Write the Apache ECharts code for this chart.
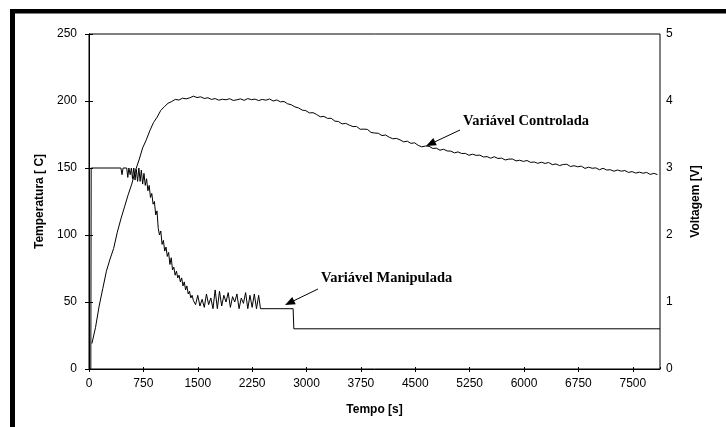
<!DOCTYPE html>
<html>
<head>
<meta charset="utf-8">
<script src="https://cdn.jsdelivr.net/npm/echarts@6/dist/echarts.min.js"></script>
<style>
html,body{margin:0;padding:0;background:#fff;}
#chart{width:726px;height:427px;}
</style>
</head>
<body>
<div id="chart"></div>
<script>
// ---- Data ----
var xTicks = [0, 750, 1500, 2250, 3000, 3750, 4500, 5250, 6000, 6750, 7500];
var leftTicks = [0, 50, 100, 150, 200, 250];
var rightTicks = [0, 1, 2, 3, 4, 5];

// Variável Controlada: temperature [C], sample times [s]
var tempTime = [40,90,140,190,240,290,340,390,440,490,540,590,640,690,740,790,840,890,940,990,
1040,1090,1140,1190,1240,1290,1340,1390,1440,1490,1540,1590,1640,1690,1740,1790,1840,1890,1940,1990,
2040,2090,2140,2190,2240,2290,2340,2390,2440,2490,2540,2590,2640,2690,2740,2790,2840,2890,2940,2990,
3040,3090,3140,3190,3240,3290,3340,3390,3440,3490,3540,3590,3640,3690,3740,3790,3840,3890,3940,3990,
4040,4090,4140,4190,4240,4290,4340,4390,4440,4490,4540,4590,4640,4690,4740,4790,4840,4890,4940,4990,
5040,5090,5140,5190,5240,5290,5340,5390,5440,5490,5540,5590,5640,5690,5740,5790,5840,5890,5940,5990,
6040,6090,6140,6190,6240,6290,6340,6390,6440,6490,6540,6590,6640,6690,6740,6790,6840,6890,6940,6990,
7040,7090,7140,7190,7240,7290,7340,7390,7440,7490,7540,7590,7640,7690,7740,7790,7840];
var tempValue = [19,31,47,60,73,82,90,102,112,121,130,138,148,156,165,171,178,184,188,193,
195.8,198.3,199.6,201.2,200.7,202.1,201.6,202.4,203.6,202.6,203.1,201.9,202.4,201.2,201.8,200.6,201.3,200.9,201.7,200.4,
200.9,201.6,200.5,201.8,201.0,201.4,200.3,201.2,200.6,201.5,200.0,200.8,199.4,199.6,197.9,197.2,195.6,194.8,193.2,192.8,
191.1,191.3,189.9,188.2,188.5,187.0,187.1,185.0,184.7,182.9,183.3,182.0,180.9,181.0,178.9,179.0,178.8,176.5,176.1,175.9,
174.2,174.6,173.0,171.8,172.1,171.0,169.5,170.0,168.4,168.8,166.9,165.8,166.4,166.2,164.6,164.8,163.3,164.0,162.7,162.6,
161.3,162.0,160.8,160.9,159.5,160.3,159.4,159.6,158.2,158.5,157.3,158.4,157.1,157.4,156.0,156.6,156.7,155.3,155.8,154.9,
155.6,154.2,154.5,153.5,154.3,153.4,154.1,152.5,153.0,151.8,152.6,152.8,151.1,151.7,150.9,151.4,149.7,150.6,149.8,150.1,
148.7,149.8,148.5,148.7,147.6,148.5,147.6,148.1,146.7,147.3,146.2,146.9,146.1,146.7,145.2,146.0,145.1];

// Variável Manipulada: voltage [V], times [s]
var mvTime = [25,30,440,455,470,520,535,550,568,585,600,618,635,652,670,688,705,722,740,758,
776,794,812,830,848,866,884,902,920,938,955,972,990,1008,1026,1044,1062,1080,1098,1116,
1134,1152,1170,1188,1206,1224,1242,1260,1278,1296,1314,1332,1350,1368,1386,1404,1422,1440,1470,1500,
1530,1560,1590,1620,1650,1680,1710,1740,1770,1800,1830,1860,1890,1920,1950,1980,2010,2040,2070,2100,
2130,2160,2190,2220,2250,2280,2310,2340,2365,2380,2815,2825,7875];
var mvVolt = [0,3.0,3.0,2.9,3.0,3.0,2.86,3.0,2.9,3.0,2.84,3.0,2.82,2.98,2.8,3.0,2.8,2.97,2.76,2.92,
2.74,2.84,2.66,2.74,2.56,2.62,2.46,2.5,2.3,2.36,2.1,2.0,2.06,1.86,1.92,1.76,1.82,1.68,1.74,1.56,
1.66,1.48,1.52,1.4,1.46,1.36,1.4,1.3,1.36,1.24,1.3,1.18,1.24,1.12,1.16,1.06,1.1,1.02,0.96,1.1,
0.94,1.04,0.92,1.12,0.96,1.06,0.9,1.18,0.9,1.16,0.94,1.1,1.0,1.14,0.92,1.08,1.0,1.12,0.9,1.06,
0.98,1.14,0.9,1.1,0.92,1.12,0.9,1.1,0.9,0.9,0.9,0.6,0.6];

var labelControlled = "Variável Controlada";
var labelManipulated = "Variável Manipulada";

// ---- Build ----
function pairs(xs, ys) {
  var out = [];
  for (var i = 0; i < xs.length; i++) out.push([xs[i], ys[i]]);
  return out;
}
function arrowHead(x1, y1, x2, y2, len, wid) {
  var dx = x2 - x1, dy = y2 - y1, d = Math.sqrt(dx * dx + dy * dy);
  var ux = dx / d, uy = dy / d, nx = -uy, ny = ux;
  var bx = x2 - ux * len, by = y2 - uy * len;
  return [
    { type: 'line', shape: { x1: x1, y1: y1, x2: bx, y2: by }, style: { stroke: '#000', lineWidth: 1 } },
    { type: 'polygon', shape: { points: [[x2, y2], [bx + nx * wid / 2, by + ny * wid / 2], [bx - nx * wid / 2, by - ny * wid / 2]] },
      style: { fill: '#000' } }
  ];
}

var axisFont = 'Arial, "Liberation Sans", sans-serif';
var serifFont = '"Times New Roman", "Liberation Serif", serif';

var chart = echarts.init(document.getElementById('chart'), null, { renderer: 'canvas' });

var graphics = [
  { type: 'rect', shape: { x: 10, y: 9, width: 5, height: 430 }, style: { fill: '#000' } },
  { type: 'rect', shape: { x: 10, y: 9, width: 730, height: 4.5 }, style: { fill: '#000' } },
  { type: 'text', left: 463, top: 114, style: { text: labelControlled, font: 'bold 14.5px ' + serifFont, fill: '#000' } },
  { type: 'text', left: 321, top: 271, style: { text: labelManipulated, font: 'bold 14.5px ' + serifFont, fill: '#000' } }
].concat(arrowHead(460, 130, 426, 146, 10, 8)).concat(arrowHead(318, 289, 285, 305, 10, 8));

var option = {
  animation: false,
  backgroundColor: '#fff',
  grid: { left: 89, right: 66, top: 34, bottom: 58, show: true, borderColor: '#000', borderWidth: 1 },
  xAxis: [{
    type: 'value', min: xTicks[0], max: 7875, interval: xTicks[1] - xTicks[0],
    name: 'Tempo [s]', nameLocation: 'middle', nameGap: 35,
    nameTextStyle: { fontFamily: axisFont, fontWeight: 'bold', fontSize: 12, color: '#000' },
    axisLine: { show: true, lineStyle: { color: '#000', width: 1 } },
    axisTick: { show: true, inside: false, length: 3, lineStyle: { color: '#000' } },
    axisLabel: { color: '#000', fontFamily: axisFont, fontSize: 12, margin: 9, showMaxLabel: false,
      formatter: function (v) { return xTicks.indexOf(v) >= 0 ? String(v) : ''; } },
    splitLine: { show: false }
  }, {
    type: 'value', position: 'bottom', min: xTicks[0], max: 7875, interval: xTicks[1] - xTicks[0],
    axisLine: { show: false },
    axisTick: { show: true, inside: true, length: 2, lineStyle: { color: '#000' } },
    axisLabel: { show: false }, splitLine: { show: false }
  }],
  yAxis: [{
    type: 'value', position: 'left', min: leftTicks[0], max: leftTicks[leftTicks.length - 1], interval: leftTicks[1] - leftTicks[0],
    name: 'Temperatura [ C]', nameLocation: 'middle', nameGap: 41, nameRotate: 90,
    nameTextStyle: { fontFamily: axisFont, fontWeight: 'bold', fontSize: 12, color: '#000' },
    axisLine: { show: true, lineStyle: { color: '#000', width: 1 } },
    axisTick: { show: true, length: 4, lineStyle: { color: '#000' } },
    axisLabel: { color: '#000', fontFamily: axisFont, fontSize: 12, margin: 12 },
    splitLine: { show: false }
  }, {
    type: 'value', position: 'right', min: rightTicks[0], max: rightTicks[rightTicks.length - 1], interval: rightTicks[1] - rightTicks[0],
    name: 'Voltagem [V]', nameLocation: 'middle', nameGap: 30, nameRotate: 90,
    nameTextStyle: { fontFamily: axisFont, fontWeight: 'bold', fontSize: 12, color: '#000' },
    axisLine: { show: true, lineStyle: { color: '#000', width: 1 } },
    axisTick: { show: true, length: 4, lineStyle: { color: '#000' } },
    axisLabel: { color: '#000', fontFamily: axisFont, fontSize: 12, margin: 6 },
    splitLine: { show: false }
  }],
  series: [{
    name: labelControlled, type: 'line', xAxisIndex: 0, yAxisIndex: 0,
    data: pairs(tempTime, tempValue), showSymbol: false, symbol: 'none',
    lineStyle: { color: '#000', width: 1 }, z: 3
  }, {
    name: labelManipulated, type: 'line', xAxisIndex: 0, yAxisIndex: 1,
    data: pairs(mvTime, mvVolt), showSymbol: false, symbol: 'none',
    lineStyle: { color: '#000', width: 1 }, z: 3
  }],
  graphic: graphics
};
chart.setOption(option);
</script>
</body>
</html>
